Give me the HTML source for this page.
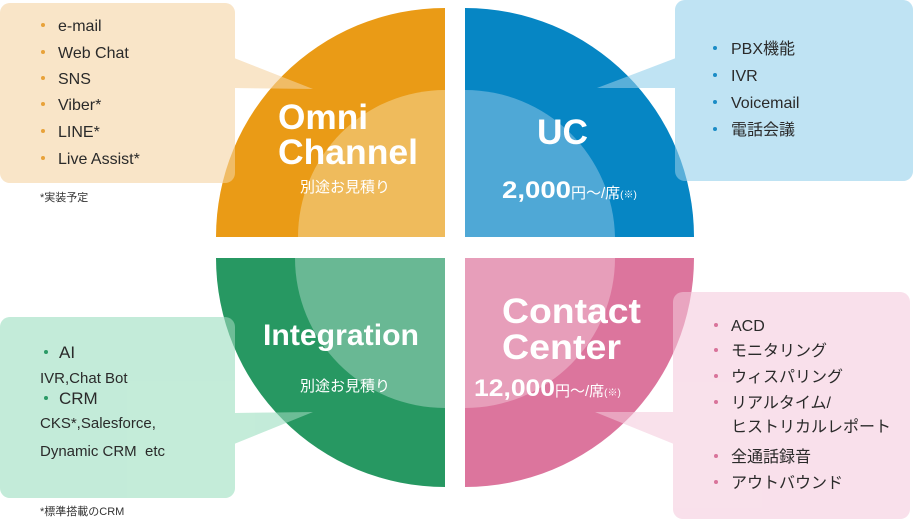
<!DOCTYPE html>
<html><head><meta charset="utf-8"><style>
html,body{margin:0;padding:0;background:#fff;}
svg{display:block;font-family:"Liberation Sans","Noto Sans CJK JP",sans-serif;}
.t{font-size:16px;fill:#2a2a2a;}
.w{fill:#fff;font-weight:bold;}
</style></head><body>
<svg width="913" height="520" viewBox="0 0 913 520" xmlns="http://www.w3.org/2000/svg">
<defs>
<g id="bo"><rect x="0" y="3" width="235" height="180" rx="10"/><polygon points="234,58 313,89 234,88"/></g>
<g id="bu"><rect x="675" y="0" width="238" height="181" rx="10"/><polygon points="676,58 597,88 676,88"/></g>
<g id="bg"><rect x="0" y="317" width="235" height="181" rx="10"/><polygon points="234,413 313,412 234,444"/></g>
<g id="bp"><rect x="673" y="292" width="237" height="227" rx="10"/><polygon points="674,412 595,412 674,444"/></g>
</defs>
<g fill="#f9e5c8"><use href="#bo"/></g>
<g fill="#bfe3f3"><use href="#bu"/></g>
<g fill="#c4ecd9"><use href="#bg"/></g>
<g fill="#f9e1eb"><use href="#bp"/></g>
<path d="M445,237 L216,237 A229,229 0 0 1 445,8 Z" fill="#ea9b16"/>
<path d="M445,237 L298,237 A147,147 0 0 1 445,90 Z" fill="#efbb5c"/>
<path d="M465,237 L465,8 A229,229 0 0 1 694,237 Z" fill="#0686c4"/>
<path d="M465,237 L465,90 A150,150 0 0 1 615,237 Z" fill="#4fa8d6"/>
<path d="M445,258 L445,487 A229,229 0 0 1 216,258 Z" fill="#279862"/>
<path d="M445,258 L445,408 A150,150 0 0 1 295,258 Z" fill="#69b894"/>
<path d="M465,258 L694,258 A229,229 0 0 1 465,487 Z" fill="#dc759d"/>
<path d="M465,258 L615,258 A150,150 0 0 1 465,408 Z" fill="#e79eba"/>
<g fill="#f9e5c8" opacity="0.45"><use href="#bo"/></g>
<g fill="#bfe3f3" opacity="0.45"><use href="#bu"/></g>
<g fill="#c4ecd9" opacity="0.45"><use href="#bg"/></g>
<g fill="#f9e1eb" opacity="0.45"><use href="#bp"/></g>
<text class="w" x="278" y="129" font-size="35" textLength="90" lengthAdjust="spacingAndGlyphs">Omni</text>
<text class="w" x="278" y="164" font-size="35" textLength="140" lengthAdjust="spacingAndGlyphs">Channel</text>
<text x="300" y="192" fill="#fff" font-size="15">別途お見積り</text>
<text class="w" x="537" y="144" font-size="35" textLength="51" lengthAdjust="spacingAndGlyphs">UC</text>
<text class="w" x="502" y="198" font-size="24"><tspan textLength="69" lengthAdjust="spacingAndGlyphs">2,000</tspan><tspan font-size="15" font-weight="normal">円〜/席</tspan><tspan font-size="10" font-weight="normal">(※)</tspan></text>
<text class="w" x="263" y="345" font-size="30" textLength="156" lengthAdjust="spacingAndGlyphs">Integration</text>
<text x="300" y="391" fill="#fff" font-size="15">別途お見積り</text>
<text class="w" x="502" y="323" font-size="35" textLength="139" lengthAdjust="spacingAndGlyphs">Contact</text>
<text class="w" x="502" y="359" font-size="35" textLength="119" lengthAdjust="spacingAndGlyphs">Center</text>
<text x="474" y="396" fill="#fff" font-size="24" font-weight="bold"><tspan textLength="81" lengthAdjust="spacingAndGlyphs">12,000</tspan><tspan font-size="15" font-weight="normal">円〜/席</tspan><tspan font-size="10" font-weight="normal">(※)</tspan></text>
<g class="t" font-size="17">
<text x="58" y="31">e-mail</text><text x="58" y="58">Web Chat</text><text x="58" y="84">SNS</text>
<text x="58" y="110">Viber*</text><text x="58" y="137">LINE*</text><text x="58" y="164">Live Assist*</text>
</g>
<g fill="#e8a23a"><circle cx="43" cy="25" r="2"/><circle cx="43" cy="52" r="2"/><circle cx="43" cy="78" r="2"/><circle cx="43" cy="104" r="2"/><circle cx="43" cy="131" r="2"/><circle cx="43" cy="158" r="2"/></g>
<text x="40" y="201" font-size="11" fill="#333">*実装予定</text>
<g class="t" font-size="17">
<text x="731" y="54">PBX機能</text><text x="731" y="81">IVR</text><text x="731" y="108">Voicemail</text><text x="731" y="135">電話会議</text>
</g>
<g fill="#1a8cc6"><circle cx="715" cy="48" r="2"/><circle cx="715" cy="75" r="2"/><circle cx="715" cy="102" r="2"/><circle cx="715" cy="129" r="2"/></g>
<g class="t">
<text x="59" y="358" font-size="17">AI</text>
<text x="40" y="383" font-size="15">IVR,Chat Bot</text>
<text x="59" y="404" font-size="17">CRM</text>
<text x="40" y="428" font-size="15">CKS*,Salesforce,</text>
<text x="40" y="456" font-size="15">Dynamic CRM&#160;&#160;etc</text>
</g>
<g fill="#2a9a66"><circle cx="46" cy="352" r="2"/><circle cx="46" cy="398" r="2"/></g>
<text x="40" y="515" font-size="11" fill="#333">*標準搭載のCRM</text>
<g class="t" font-size="16">
<text x="731" y="331">ACD</text><text x="731" y="356">モニタリング</text><text x="731" y="382">ウィスパリング</text>
<text x="731" y="408">リアルタイム/</text><text x="731" y="432">ヒストリカルレポート</text>
<text x="731" y="462">全通話録音</text><text x="731" y="488">アウトバウンド</text>
</g>
<g fill="#d9739a"><circle cx="716" cy="325" r="2"/><circle cx="716" cy="350" r="2"/><circle cx="716" cy="376" r="2"/><circle cx="716" cy="402" r="2"/><circle cx="716" cy="456" r="2"/><circle cx="716" cy="482" r="2"/></g>
</svg>
</body></html>
